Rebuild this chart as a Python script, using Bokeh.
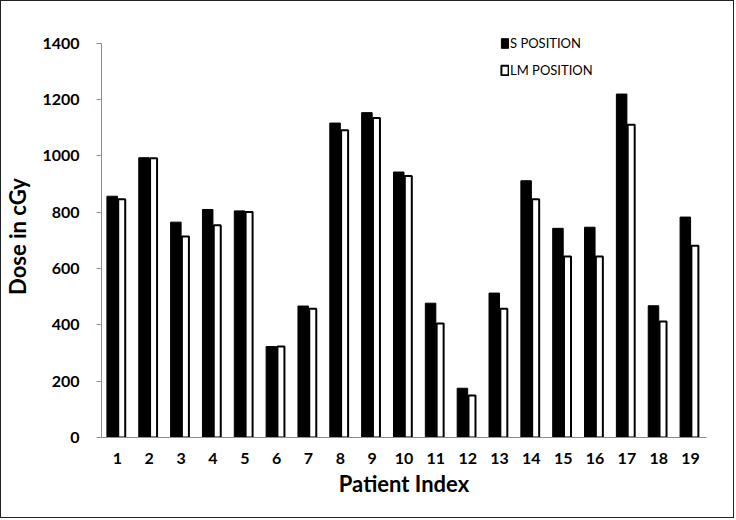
from bokeh.plotting import figure
from bokeh.models import (FactorRange, Range1d, FixedTicker, Legend, LegendItem,
                          ColumnDataSource)
from bokeh.transform import dodge
from bokeh.embed import file_html
from bokeh.resources import INLINE

patients = [str(i) for i in range(1, 20)]
s_position = [857, 994, 765, 810, 805, 323, 467, 1117, 1154, 943,
              477, 175, 513, 912, 743, 747, 1220, 468, 783]
lm_position = [846, 992, 714, 754, 801, 323, 457, 1091, 1135, 929,
               405, 149, 457, 846, 643, 643, 1111, 412, 681]
y_ticks = [0, 200, 400, 600, 800, 1000, 1200, 1400]
series_names = ["S POSITION", "LM POSITION"]

src = ColumnDataSource(dict(patient=patients, s=s_position, lm=lm_position))

p = figure(width=734, height=518, output_backend="svg", toolbar_location=None,
           x_range=FactorRange(factors=patients, range_padding=0),
           y_range=Range1d(0, 1428),
           min_border_left=100, min_border_right=29,
           min_border_top=34, min_border_bottom=82)
p.styles = {"border": "1px solid #222"}
p.outline_line_color = None
p.grid.grid_line_color = None
p.background_fill_color = "white"
p.border_fill_color = "white"

r_s = p.vbar(x=dodge("patient", -0.165, range=p.x_range), top="s", width=0.33,
             source=src, fill_color="black", line_color="black", line_width=1)
r_lm = p.vbar(x=dodge("patient", 0.135, range=p.x_range), top="lm", width=0.22,
              source=src, fill_color="white", line_color="black", line_width=2)

FONT = "Lato"
for ax in (p.xaxis[0], p.yaxis[0]):
    ax.axis_line_color = "#8c8c8c"
    ax.axis_line_width = 1
    ax.major_label_text_font = FONT
    ax.major_label_text_font_style = "bold"
    ax.major_label_text_font_size = "16px"
    ax.major_label_text_color = "black"
    ax.axis_label_text_font = FONT
    ax.axis_label_text_font_style = "bold"
    ax.axis_label_text_color = "black"
    ax.minor_tick_line_color = None

p.xaxis.major_tick_line_color = None
p.xaxis.major_label_standoff = 9
p.xaxis.axis_label = "Patient Index"
p.xaxis.axis_label_text_font_size = "22px"
p.xaxis.axis_label_standoff = 3

p.yaxis.bounds = (0, 1400)
p.yaxis.ticker = FixedTicker(ticks=y_ticks)
p.yaxis.major_tick_line_color = "#8c8c8c"
p.yaxis.major_tick_out = 5
p.yaxis.major_tick_in = 0
p.yaxis.major_label_standoff = 17
p.yaxis.axis_label = "Dose in cGy"
p.yaxis.axis_label_text_font_size = "22px"
p.yaxis.axis_label_standoff = 8

legend = Legend(items=[LegendItem(label=series_names[0], renderers=[r_s]),
                       LegendItem(label=series_names[1], renderers=[r_lm])],
                location=(399, 357), orientation="vertical",
                padding=0, margin=0, spacing=7, label_standoff=1,
                glyph_width=9, glyph_height=12, label_height=20,
                label_text_font=FONT, label_text_font_size="13px",
                label_text_color="black",
                border_line_alpha=0, background_fill_alpha=0)
p.add_layout(legend)

open("out.html", "w").write(file_html(p, INLINE))
